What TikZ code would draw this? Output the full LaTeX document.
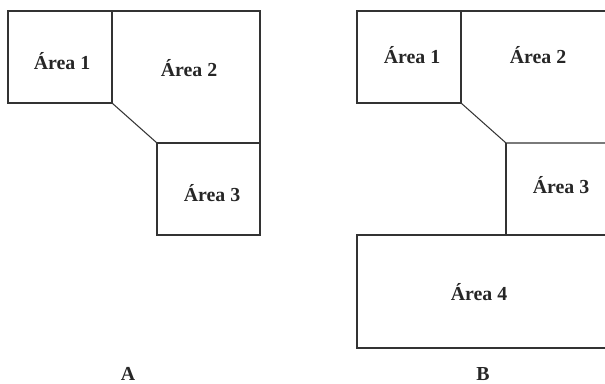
\documentclass[tikz,border=0pt]{standalone}
\usepackage{fontspec}
\setmainfont{Liberation Serif}

\begin{document}
\begin{tikzpicture}[x=0.02cm, y=-0.02cm,
  wall/.style={draw=black!80, line width=0.6pt},
  area/.style={font=\fontsize{11.3}{13}\selectfont\bfseries, text=black!85},
  plan/.style={font=\fontsize{11.3}{13}\selectfont\bfseries, text=black!85, inner sep=1pt}]
  \clip (0,0) rectangle (605,384);
  % plan A
  \draw[wall] (8,11) rectangle (112,103);
  \draw[wall] (112,11) -- (260,11) -- (260,235) -- (157,235) -- (157,143) -- (260,143);
  \draw[wall] (112,103) -- (157,143);
  \node[area] (a1) at (62,61) {Área 1};
  \node[area] (a2) at (189,68) {Área 2};
  \node[area] (a3) at (212,193) {Área 3};
  \node[plan] (pa) at (128,374) {A};
  % plan B
  \draw[wall] (357,11) rectangle (461,103);
  \draw[wall] (461,11) -- (610,11);
  \draw[wall] (461,103) -- (506,143) -- (610,143);
  \draw[wall] (506,143) -- (506,235);
  \draw[wall] (357,235) rectangle (610,348);
  \node[area] (b1) at (412,55) {Área 1};
  \node[area] (b2) at (538,55) {Área 2};
  \node[area] (b3) at (561,185) {Área 3};
  \node[area] (b4) at (479,292) {Área 4};
  \node[plan] (pb) at (483,374) {B};
\end{tikzpicture}
\end{document}
